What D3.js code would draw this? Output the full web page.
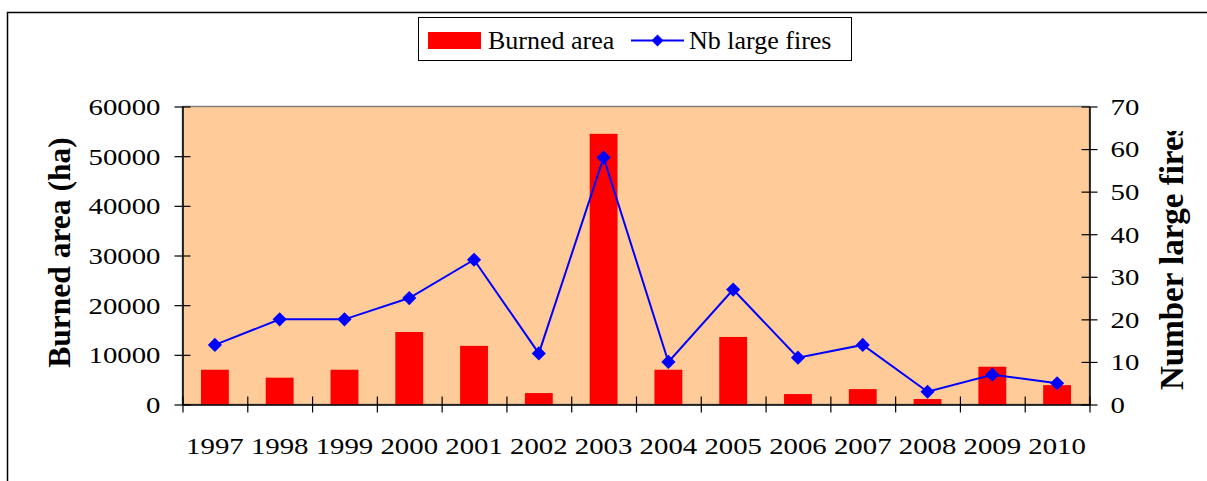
<!DOCTYPE html>
<html>
<head>
<meta charset="utf-8">
<script src="https://cdn.jsdelivr.net/npm/d3@7"></script>
<style>
  body { margin: 0; background: #fff; }
  svg { display: block; font-family: "Liberation Serif", "Times New Roman", serif; }
</style>
</head>
<body>
<svg id="chart"></svg>
<script>
const years = ["1997", "1998", "1999", "2000", "2001", "2002", "2003", "2004", "2005", "2006", "2007", "2008", "2009", "2010"];
const burnedArea = [7000, 5400, 7000, 14600, 11800, 2300, 54500, 7000, 13600, 2100, 3100, 1100, 7600, 3900];
const largeFires = [14, 20, 20, 25, 34, 12, 58, 10, 27, 11, 14, 3, 7, 5];
const leftTicks = [0, 10000, 20000, 30000, 40000, 50000, 60000];
const rightTicks = [0, 10, 20, 30, 40, 50, 60, 70];

const width = 1207, height = 481;
const plot = {left: 182.5, right: 1089.5, top: 106.5, bottom: 404.5};
const stretch = 1.2; // tick labels look widened in the original

const svg = d3.select('#chart')
    .attr('width', width)
    .attr('height', height);

// outer chart frame (runs off the right and bottom)
svg.append('rect')
    .attr('x', 7.5).attr('y', 12.5)
    .attr('width', 1300).attr('height', 600)
    .attr('fill', '#fff')
    .attr('stroke', '#000')
    .attr('stroke-width', 1.5);

const x = d3.scaleBand()
    .domain(years)
    .range([plot.left, plot.right])
    .padding(0);

const yLeft = d3.scaleLinear()
    .domain([0, 60000])
    .range([plot.bottom, plot.top]);

const yRight = d3.scaleLinear()
    .domain([0, 70])
    .range([plot.bottom, plot.top]);

// plot area
svg.append('rect')
    .attr('x', plot.left).attr('y', plot.top)
    .attr('width', plot.right - plot.left)
    .attr('height', plot.bottom - plot.top)
    .attr('fill', '#FFCC99')
    .attr('stroke', '#808080')
    .attr('stroke-width', 1.5);

// bars
const barW = x.bandwidth() * 0.43;
svg.selectAll('.bar')
    .data(years.map((y, i) => [y, burnedArea[i]]))
    .join('rect')
    .attr('class', 'bar')
    .attr('x', d => x(d[0]) + (x.bandwidth() - barW) / 2)
    .attr('y', d => yLeft(d[1]))
    .attr('width', barW)
    .attr('height', d => plot.bottom - yLeft(d[1]))
    .attr('fill', '#FF0000');

// line + diamonds
const firePts = years.map((y, i) => [y, largeFires[i]]);
const line = d3.line()
    .x(d => x(d[0]) + x.bandwidth() / 2)
    .y(d => yRight(d[1]));

svg.append('path')
    .datum(firePts)
    .attr('d', line)
    .attr('fill', 'none')
    .attr('stroke', '#0000FF')
    .attr('stroke-width', 2);

const diamond = d3.symbol().type(d3.symbolDiamond2).size(128);
svg.selectAll('.pt')
    .data(firePts)
    .join('path')
    .attr('class', 'pt')
    .attr('transform', d => `translate(${x(d[0]) + x.bandwidth() / 2},${yRight(d[1])})`)
    .attr('d', diamond)
    .attr('fill', '#0000FF');

// axes with crossing tick marks
function styleAxis(g) {
    g.select('.domain').attr('stroke', '#000').attr('stroke-width', 1.5);
    g.selectAll('.tick line').attr('stroke', '#000').attr('stroke-width', 1.2);
    g.selectAll('.tick text')
        .attr('fill', '#000')
        .style('font-size', '24px')
        .style('font-family', '"Liberation Serif", "Times New Roman", serif')
        .attr('transform', `scale(${stretch},1)`);
}

const gLeft = svg.append('g')
    .attr('transform', `translate(${plot.left},0)`)
    .call(d3.axisLeft(yLeft).tickValues(leftTicks).tickFormat(d3.format('d')).tickSizeOuter(0))
    .call(styleAxis);
gLeft.selectAll('.tick line').attr('x1', 8).attr('x2', -8);
gLeft.selectAll('.tick text').attr('x', -22 / stretch).attr('dy', '0.33em');

const gRight = svg.append('g')
    .attr('transform', `translate(${plot.right},0)`)
    .call(d3.axisRight(yRight).tickValues(rightTicks).tickSizeOuter(0))
    .call(styleAxis);
gRight.selectAll('.tick line').attr('x1', -8).attr('x2', 8);
gRight.selectAll('.tick text').attr('x', 21 / stretch).attr('dy', '0.33em');

const xTickAxis = d3.axisBottom(d3.scalePoint().domain(d3.range(years.length + 1)).range([plot.left, plot.right]))
    .tickFormat('')
    .tickSizeOuter(0);
const gXTicks = svg.append('g')
    .attr('transform', `translate(0,${plot.bottom})`)
    .call(xTickAxis)
    .call(styleAxis);
gXTicks.selectAll('.tick line').attr('y1', -8).attr('y2', 8);

const gX = svg.append('g')
    .attr('transform', `translate(0,${plot.bottom})`)
    .call(d3.axisBottom(x).tickSize(0).tickSizeOuter(0))
    .call(styleAxis);
gX.select('.domain').remove();
gX.selectAll('.tick text').attr('y', 50).attr('dy', 0);

// axis titles
svg.append('text')
    .attr('transform', `translate(70,${(plot.top + plot.bottom) / 2 - 3}) rotate(-90)`)
    .attr('text-anchor', 'middle')
    .style('font-size', '31.5px')
    .style('font-weight', 'bold')
    .text('Burned area (ha)');

svg.append('clipPath').attr('id', 'rclip')
    .append('rect').attr('x', 1100).attr('y', 131).attr('width', 107).attr('height', 350);

svg.append('g')
    .attr('clip-path', 'url(#rclip)')
    .append('text')
    .attr('transform', 'translate(1183,390) rotate(-90)')
    .attr('text-anchor', 'start')
    .style('font-size', '33px')
    .style('font-weight', 'bold')
    .text('Number large fires');

// legend
const legend = svg.append('g');
legend.append('rect')
    .attr('x', 418.5).attr('y', 17.5)
    .attr('width', 433).attr('height', 43)
    .attr('fill', '#fff')
    .attr('stroke', '#000')
    .attr('stroke-width', 1);
legend.append('rect')
    .attr('x', 428).attr('y', 32)
    .attr('width', 53).attr('height', 17)
    .attr('fill', '#FF0000');
legend.append('text')
    .attr('x', 488).attr('y', 49)
    .style('font-size', '26px')
    .text('Burned area');
legend.append('line')
    .attr('x1', 631).attr('x2', 684)
    .attr('y1', 40.5).attr('y2', 40.5)
    .attr('stroke', '#0000FF')
    .attr('stroke-width', 2);
legend.append('path')
    .attr('transform', 'translate(657.5,40.5)')
    .attr('d', d3.symbol().type(d3.symbolDiamond2).size(90))
    .attr('fill', '#0000FF');
legend.append('text')
    .attr('x', 689).attr('y', 49)
    .style('font-size', '26px')
    .text('Nb large fires');
</script>
</body>
</html>
